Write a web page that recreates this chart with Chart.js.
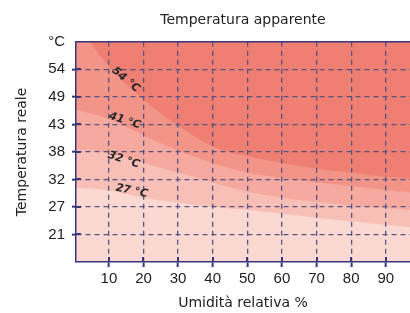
<!DOCTYPE html>
<html><head><meta charset="utf-8">
<script src="https://cdn.jsdelivr.net/npm/chart.js@4"></script>
<style>html,body{margin:0;padding:0;background:#fff;overflow:hidden}</style>
</head><body>
<canvas id="c" width="410" height="313"></canvas>
<script>
// Relative humidity (%) sampled along each apparent-temperature curve
const humidity = [0, 10, 20, 30, 40, 50, 60, 70, 80, 90, 100];
// Real temperature (°F axis units) at which apparent temperature reaches each level
const hi54 = [148, 131, 119, 109.5, 102, 98.5, 96, 94, 92.5, 91, 90];
const hi41 = [115.5, 112, 106, 100.5, 96, 92.5, 90.5, 89, 87.5, 86.2, 85];
const hi32 = [101, 99.5, 96, 92.5, 89, 85.5, 83.3, 81.8, 80.6, 79.6, 78.6];
const hi27 = [87, 86, 83.3, 81.5, 80, 79, 77.5, 76, 74.8, 73.5, 72.3];

const xTicks = [10, 20, 30, 40, 50, 60, 70, 80, 90];
const yTickValues = [70, 80, 90, 100, 110, 120, 130, 140];
const yTickLabels = ['21', '27', '32', '38', '43', '49', '54', '°C'];

const curveLabels = ['27 °C', '32 °C', '41 °C', '54 °C'];
const curveLabelX = [16.6, 14.3, 14.6, 14.9];
const curveLabelY = [85.8, 97.1, 111.3, 126.2];
const curveLabelAngle = [12, 18, 18, 40];

const NAVY = '#38357a';
const GRID = '#57527f';
const COL_TOP = '#f07f73';
const COL_41_54 = '#f29487';
const COL_32_41 = '#f5a99f';
const COL_27_32 = '#f8bfb7';
const COL_LOW = '#fcd8d2';

const pts = arr => humidity.map((h, i) => ({x: h, y: arr[i]}));
const ds = (arr, color) => ({
  data: pts(arr), fill: 'start', backgroundColor: color, borderWidth: 0,
  pointRadius: 0, cubicInterpolationMode: 'monotone'
});

const decor = {
  id: 'decor',
  beforeDraw(chart) {
    const {ctx, chartArea: a} = chart;
    ctx.save();
    ctx.fillStyle = COL_TOP;
    ctx.fillRect(a.left, a.top, a.right - a.left, a.bottom - a.top);
    ctx.restore();
  },
  afterDraw(chart) {
    const {ctx, chartArea: a, scales: {x, y}} = chart;
    ctx.save();
    ctx.strokeStyle = NAVY;
    ctx.lineWidth = 1.5;
    ctx.beginPath();
    ctx.moveTo(a.left, a.top);
    ctx.lineTo(a.right, a.top);
    ctx.stroke();
    ctx.lineWidth = 2;
    xTicks.forEach(v => {
      const px = Math.round(x.getPixelForValue(v));
      ctx.beginPath(); ctx.moveTo(px, a.bottom); ctx.lineTo(px, a.bottom - 5); ctx.stroke();
    });
    yTickValues.forEach(v => {
      if (v >= y.max) return;
      const py = Math.round(y.getPixelForValue(v));
      ctx.beginPath(); ctx.moveTo(a.left, py); ctx.lineTo(a.left + 5, py); ctx.stroke();
    });
    ctx.fillStyle = '#262626';
    ctx.font = 'italic bold 11px "DejaVu Sans"';
    ctx.textAlign = 'center';
    ctx.textBaseline = 'middle';
    curveLabels.forEach((t, i) => {
      const px = x.getPixelForValue(curveLabelX[i]);
      const py = y.getPixelForValue(curveLabelY[i]);
      ctx.save();
      ctx.translate(px, py);
      ctx.rotate(curveLabelAngle[i] * Math.PI / 180);
      ctx.fillText(t, 0, 0);
      ctx.restore();
    });
    ctx.restore();
  }
};

new Chart(document.getElementById('c'), {
  type: 'line',
  data: {
    datasets: [ds(hi27, COL_LOW), ds(hi32, COL_27_32), ds(hi41, COL_32_41), ds(hi54, COL_41_54)]
  },
  options: {
    responsive: false,
    animation: false,
    layout: {padding: 0},
    plugins: {
      legend: {display: false},
      tooltip: {enabled: false},
      title: {
        display: true, text: 'Temperatura apparente', color: '#222', fullSize: false,
        font: {family: 'DejaVu Sans', size: 14, weight: 'normal'},
        padding: {top: 12, bottom: 13}
      }
    },
    scales: {
      x: {
        type: 'linear', min: 0.5, max: 97,
        afterBuildTicks: s => { s.ticks = xTicks.map(v => ({value: v})); },
        afterFit: s => { s.height = 51; },
        ticks: {color: '#222', font: {family: 'Liberation Sans', size: 15}, padding: 3},
        grid: {color: GRID, lineWidth: 1.3, tickLength: 5, tickWidth: 2, tickColor: NAVY, z: 1},
        border: {color: NAVY, width: 1.5, dash: [5, 4], z: 1},
        title: {display: true, text: 'Umidità relativa %', color: '#222',
          font: {family: 'DejaVu Sans', size: 14}, padding: {top: 4, bottom: 1}}
      },
      y: {
        type: 'linear', min: 60, max: 140,
        afterBuildTicks: s => { s.ticks = yTickValues.map(v => ({value: v})); },
        afterFit: s => { s.width = 76; },
        ticks: {
          color: '#222', font: {family: 'Liberation Sans', size: 15}, padding: 7,
          callback: v => yTickLabels[yTickValues.indexOf(v)]
        },
        grid: {
          color: c => (c.tick && c.tick.value >= 140) ? 'rgba(0,0,0,0)' : GRID,
          tickColor: c => (c.tick && c.tick.value >= 140) ? 'rgba(0,0,0,0)' : NAVY,
          lineWidth: 1.3, tickLength: 4, tickWidth: 2, z: 1
        },
        border: {color: NAVY, width: 1.5, dash: [5, 4], z: 1},
        title: {display: true, text: 'Temperatura reale', color: '#222',
          font: {family: 'DejaVu Sans', size: 14}, padding: {top: 14, bottom: 0}}
      }
    }
  },
  plugins: [decor]
});
</script>
</body></html>
